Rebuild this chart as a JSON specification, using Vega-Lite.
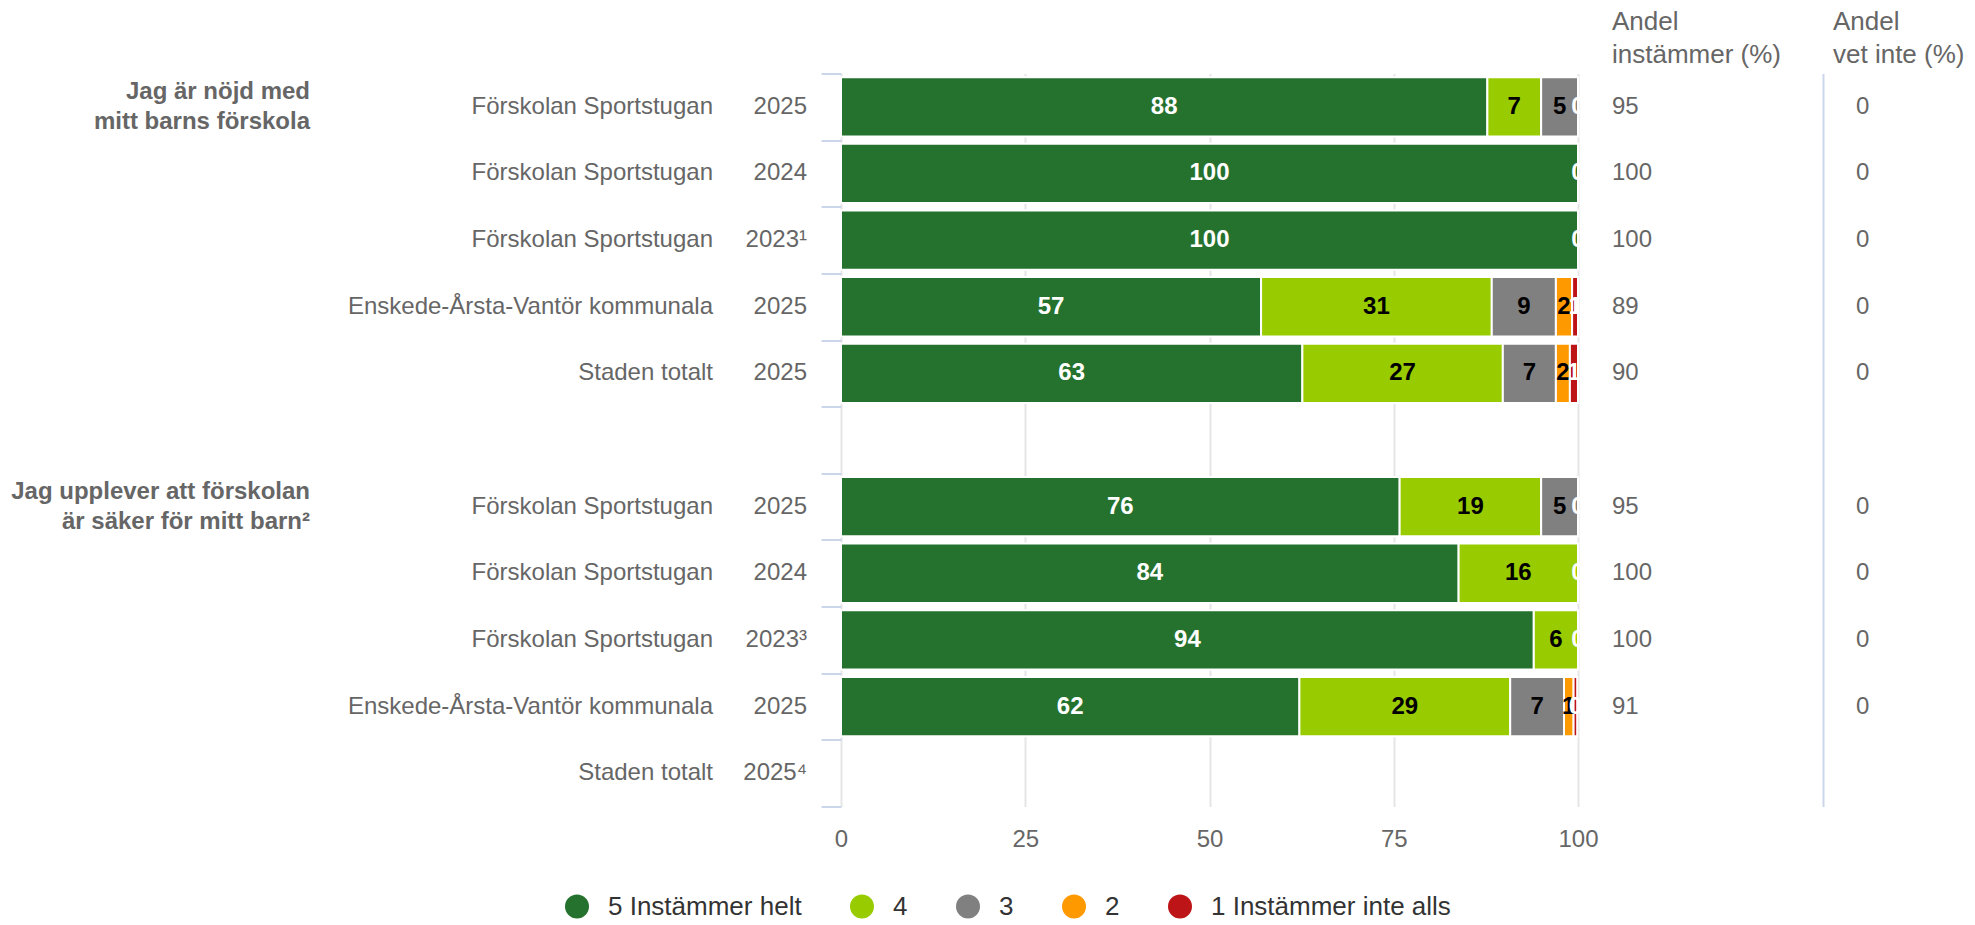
{
  "$schema": "https://vega.github.io/schema/vega-lite/v6.json",
  "padding": {"top": 8.5, "left": 0, "right": 0, "bottom": 0},
  "bounds": "flush",
  "spacing": 34,
  "config": {
    "font": "Liberation Sans",
    "view": {"stroke": null},
    "text": {"font": "Liberation Sans"},
    "title": {"font": "Liberation Sans"}
  },
  "datasets": {
    "groups": [
      {"row": "a1", "label": "Jag är nöjd med\nmitt barns förskola"},
      {"row": "b1", "label": "Jag upplever att förskolan\när säker för mitt barn²"}
    ],
    "rows": [
      {"row": "a1", "name": "Förskolan Sportstugan", "year": "2025", "inst": 95, "vet": 0},
      {"row": "a2", "name": "Förskolan Sportstugan", "year": "2024", "inst": 100, "vet": 0},
      {"row": "a3", "name": "Förskolan Sportstugan", "year": "2023¹", "inst": 100, "vet": 0},
      {"row": "a4", "name": "Enskede-Årsta-Vantör kommunala", "year": "2025", "inst": 89, "vet": 0},
      {"row": "a5", "name": "Staden totalt", "year": "2025", "inst": 90, "vet": 0},
      {"row": "b1", "name": "Förskolan Sportstugan", "year": "2025", "inst": 95, "vet": 0},
      {"row": "b2", "name": "Förskolan Sportstugan", "year": "2024", "inst": 100, "vet": 0},
      {"row": "b3", "name": "Förskolan Sportstugan", "year": "2023³", "inst": 100, "vet": 0},
      {"row": "b4", "name": "Enskede-Årsta-Vantör kommunala", "year": "2025", "inst": 91, "vet": 0},
      {"row": "b5", "name": "Staden totalt", "year": "2025⁴", "inst": null, "vet": null}
    ],
    "bars": [
      {"row": "a1", "cat": "5 Instämmer helt", "value": 87.7},
      {"row": "a1", "cat": "4", "value": 7.3},
      {"row": "a1", "cat": "3", "value": 5.0},
      {"row": "a1", "cat": "2", "value": 0},
      {"row": "a1", "cat": "1 Instämmer inte alls", "value": 0},
      {"row": "a2", "cat": "5 Instämmer helt", "value": 100},
      {"row": "a2", "cat": "4", "value": 0},
      {"row": "a2", "cat": "3", "value": 0},
      {"row": "a2", "cat": "2", "value": 0},
      {"row": "a2", "cat": "1 Instämmer inte alls", "value": 0},
      {"row": "a3", "cat": "5 Instämmer helt", "value": 100},
      {"row": "a3", "cat": "4", "value": 0},
      {"row": "a3", "cat": "3", "value": 0},
      {"row": "a3", "cat": "2", "value": 0},
      {"row": "a3", "cat": "1 Instämmer inte alls", "value": 0},
      {"row": "a4", "cat": "5 Instämmer helt", "value": 57.0},
      {"row": "a4", "cat": "4", "value": 31.3},
      {"row": "a4", "cat": "3", "value": 8.7},
      {"row": "a4", "cat": "2", "value": 2.2},
      {"row": "a4", "cat": "1 Instämmer inte alls", "value": 0.8},
      {"row": "a5", "cat": "5 Instämmer helt", "value": 62.6},
      {"row": "a5", "cat": "4", "value": 27.2},
      {"row": "a5", "cat": "3", "value": 7.2},
      {"row": "a5", "cat": "2", "value": 1.9},
      {"row": "a5", "cat": "1 Instämmer inte alls", "value": 1.1},
      {"row": "b1", "cat": "5 Instämmer helt", "value": 75.8},
      {"row": "b1", "cat": "4", "value": 19.2},
      {"row": "b1", "cat": "3", "value": 5.0},
      {"row": "b1", "cat": "2", "value": 0},
      {"row": "b1", "cat": "1 Instämmer inte alls", "value": 0},
      {"row": "b2", "cat": "5 Instämmer helt", "value": 83.8},
      {"row": "b2", "cat": "4", "value": 16.2},
      {"row": "b2", "cat": "3", "value": 0},
      {"row": "b2", "cat": "2", "value": 0},
      {"row": "b2", "cat": "1 Instämmer inte alls", "value": 0},
      {"row": "b3", "cat": "5 Instämmer helt", "value": 94.0},
      {"row": "b3", "cat": "4", "value": 6.0},
      {"row": "b3", "cat": "3", "value": 0},
      {"row": "b3", "cat": "2", "value": 0},
      {"row": "b3", "cat": "1 Instämmer inte alls", "value": 0},
      {"row": "b4", "cat": "5 Instämmer helt", "value": 62.2},
      {"row": "b4", "cat": "4", "value": 28.6},
      {"row": "b4", "cat": "3", "value": 7.3},
      {"row": "b4", "cat": "2", "value": 1.3},
      {"row": "b4", "cat": "1 Instämmer inte alls", "value": 0.49}
    ]
  },
  "resolve": {"scale": {"x": "independent", "y": "shared"}},
  "hconcat": [
    {
      "width": 310,
      "height": 733,
      "data": {"name": "groups"},
      "mark": {"type": "text", "align": "right", "baseline": "middle", "fontSize": 24, "fontWeight": "bold", "color": "#666666", "lineBreak": "\n", "lineHeight": 30, "dy": -15},
      "encoding": {
        "x": {"datum": 1, "type": "quantitative", "scale": {"domain": [0, 1]}, "axis": null},
        "y": {"field": "row", "type": "nominal", "scale": {"domain": ["a1", "a2", "a3", "a4", "a5", "gap", "b1", "b2", "b3", "b4", "b5"], "paddingInner": 0, "paddingOuter": 0}, "axis": null},
        "text": {"field": "label", "type": "nominal"}
      }
    },
    {
      "width": 369,
      "height": 733,
      "data": {"name": "rows"},
      "mark": {"type": "text", "align": "right", "baseline": "middle", "fontSize": 24, "color": "#666666"},
      "encoding": {
        "x": {"datum": 1, "type": "quantitative", "scale": {"domain": [0, 1]}, "axis": null},
        "y": {"field": "row", "type": "nominal", "scale": {"domain": ["a1", "a2", "a3", "a4", "a5", "gap", "b1", "b2", "b3", "b4", "b5"], "paddingInner": 0, "paddingOuter": 0}, "axis": null},
        "text": {"field": "name", "type": "nominal"}
      }
    },
    {
      "width": 60,
      "height": 733,
      "data": {"name": "rows"},
      "mark": {"type": "text", "align": "right", "baseline": "middle", "fontSize": 24, "color": "#666666"},
      "encoding": {
        "x": {"datum": 1, "type": "quantitative", "scale": {"domain": [0, 1]}, "axis": null},
        "y": {"field": "row", "type": "nominal", "scale": {"domain": ["a1", "a2", "a3", "a4", "a5", "gap", "b1", "b2", "b3", "b4", "b5"], "paddingInner": 0, "paddingOuter": 0}, "axis": null},
        "text": {"field": "year", "type": "nominal"}
      }
    },
    {
      "width": 737,
      "height": 733,
      "data": {"name": "bars"},
      "encoding": {
        "y": {
          "field": "row",
          "type": "nominal",
          "scale": {"domain": ["a1", "a2", "a3", "a4", "a5", "gap", "b1", "b2", "b3", "b4", "b5"], "paddingInner": 0, "paddingOuter": 0},
          "axis": {"title": null, "labels": false, "domain": false, "grid": false, "tickBand": "extent", "tickColor": "#ccd6eb", "tickWidth": 2, "tickSize": 20}
        }
      },
      "layer": [
        {
          "transform": [{"filter": "datum.value > 0"}],
          "mark": {"type": "bar", "height": {"band": 0.89}, "stroke": "white", "strokeWidth": 2},
          "encoding": {
            "x": {
              "field": "value",
              "type": "quantitative",
              "stack": "zero",
              "scale": {"domain": [0, 100], "nice": false},
              "axis": {"title": null, "values": [0, 25, 50, 75, 100], "grid": true, "gridColor": "#e6e6e6", "gridWidth": 2, "domain": false, "ticks": false, "tickSize": 0, "labelPadding": 21, "labelFontSize": 24, "labelColor": "#666666", "labelFont": "Liberation Sans", "labelFlush": false}
            },
            "color": {
              "field": "cat",
              "type": "nominal",
              "scale": {
                "domain": ["5 Instämmer helt", "4", "3", "2", "1 Instämmer inte alls"],
                "range": ["#25722f", "#99cc00", "#808080", "#ff9900", "#bd1517"]
              },
              "legend": {
                "title": null,
                "orient": "none",
                "legendX": 564,
                "legendY": 820,
                "direction": "horizontal",
                "symbolType": "circle",
                "symbolSize": 576,
                "symbolStrokeWidth": 0,
                "labelFontSize": 26,
                "labelColor": "#333333",
                "labelFont": "Liberation Sans",
                "labelOffset": 18,
                "labelLimit": 0,
                "columnPadding": 47
              }
            },
            "order": {"field": "cat", "sort": "descending"}
          }
        },
        {
          "transform": [{"filter": "datum.value > 0 || datum.cat == '1 Instämmer inte alls'"}],
          "mark": {"type": "text", "fontSize": 24, "fontWeight": "bold", "baseline": "middle", "align": "center"},
          "encoding": {
            "x": {"field": "value", "type": "quantitative", "stack": "zero", "bandPosition": 0.5},
            "detail": {"field": "cat", "type": "nominal"},
            "order": {"field": "cat", "sort": "descending"},
            "text": {"field": "value", "type": "quantitative", "format": ".0f"},
            "color": {
              "condition": {"test": "datum.cat == '5 Instämmer helt' || datum.cat == '1 Instämmer inte alls'", "value": "#ffffff"},
              "value": "#000000"
            }
          }
        }
      ]
    },
    {
      "width": 177,
      "height": 733,
      "data": {"name": "rows"},
      "title": {"text": ["Andel", "instämmer (%)"], "anchor": "start", "fontSize": 26, "fontWeight": "normal", "color": "#666666", "lineHeight": 33, "offset": -20, "baseline": "bottom"},
      "transform": [{"filter": "isValid(datum.inst)"}],
      "mark": {"type": "text", "align": "left", "baseline": "middle", "fontSize": 24, "color": "#666666"},
      "encoding": {
        "x": {"datum": 0, "type": "quantitative", "scale": {"domain": [0, 1]}, "axis": null},
        "y": {"field": "row", "type": "nominal", "scale": {"domain": ["a1", "a2", "a3", "a4", "a5", "gap", "b1", "b2", "b3", "b4", "b5"], "paddingInner": 0, "paddingOuter": 0}, "axis": null},
        "text": {"field": "inst", "type": "quantitative"}
      }
    },
    {
      "width": 152,
      "height": 733,
      "data": {"name": "rows"},
      "title": {"text": ["Andel", "vet inte (%)"], "anchor": "start", "dx": 10, "fontSize": 26, "fontWeight": "normal", "color": "#666666", "lineHeight": 33, "offset": -20, "baseline": "bottom"},
      "transform": [{"filter": "isValid(datum.vet)"}],
      "mark": {"type": "text", "align": "left", "baseline": "middle", "fontSize": 24, "color": "#666666", "dx": 33},
      "encoding": {
        "x": {"datum": 0, "type": "quantitative", "scale": {"domain": [0, 1]}, "axis": null},
        "y": {
          "field": "row",
          "type": "nominal",
          "scale": {"domain": ["a1", "a2", "a3", "a4", "a5", "gap", "b1", "b2", "b3", "b4", "b5"], "paddingInner": 0, "paddingOuter": 0},
          "axis": {"title": null, "labels": false, "ticks": false, "grid": false, "domain": true, "domainColor": "#ccd6eb", "domainWidth": 2}
        },
        "text": {"field": "vet", "type": "quantitative"}
      }
    }
  ]
}
